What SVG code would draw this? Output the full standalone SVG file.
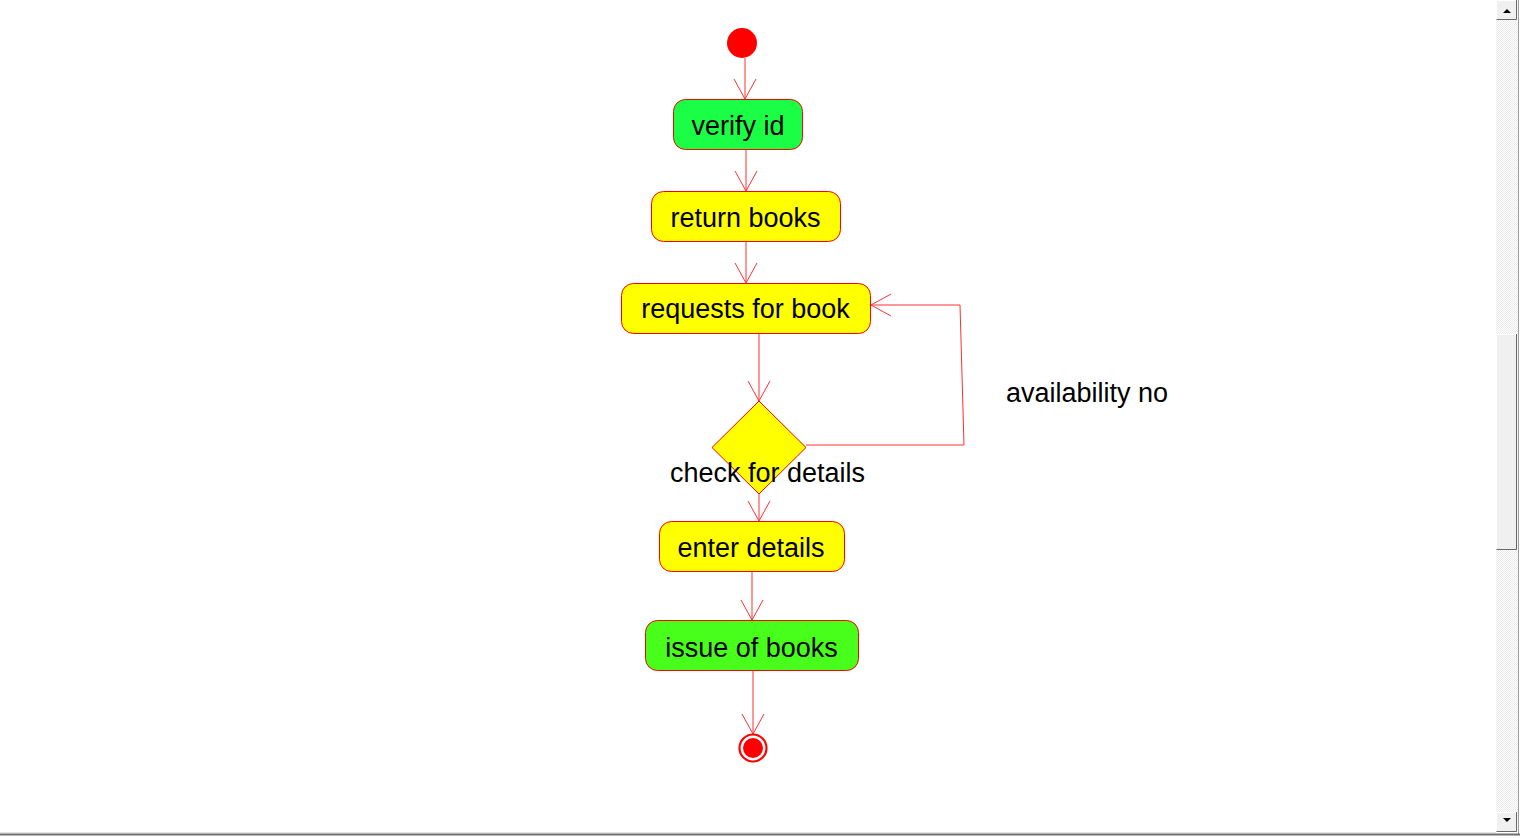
<svg xmlns="http://www.w3.org/2000/svg" width="1520" height="838" viewBox="0 0 1520 838">
  <defs>
    <style>
      .act { stroke: #ff0000; stroke-width: 1; }
      .yellow { fill: #ffff00; }
      .label { font-family: "Liberation Sans", Arial, sans-serif; font-size: 27px; fill: #000000; }
      .mid { text-anchor: middle; }
      .edge { fill: none; stroke: #ff3030; stroke-width: 1; }
      .sb-face { fill: #f0f0f0; }
    </style>
    <pattern id="dither" width="2" height="2" patternUnits="userSpaceOnUse">
      <rect width="2" height="2" fill="#ffffff"/>
      <rect width="1" height="1" fill="#eaeaea"/>
      <rect x="1" y="1" width="1" height="1" fill="#eaeaea"/>
    </pattern>
    <marker id="openArrow" viewBox="0 0 22 24" refX="21" refY="12" markerWidth="22" markerHeight="24" markerUnits="userSpaceOnUse" orient="auto">
      <path d="M1,1 L21,12 L1,23" fill="none" stroke="#ff3030" stroke-width="1"/>
    </marker>
  </defs>

  <rect x="0" y="0" width="1520" height="838" fill="#ffffff"/>

  <!-- connectors -->
  <g id="connectors">
    <line class="edge" x1="745" y1="58" x2="745" y2="99" marker-end="url(#openArrow)"/>
    <line class="edge" x1="746" y1="149" x2="746" y2="191" marker-end="url(#openArrow)"/>
    <line class="edge" x1="746" y1="241" x2="746" y2="283" marker-end="url(#openArrow)"/>
    <line class="edge" x1="759" y1="333" x2="759" y2="401" marker-end="url(#openArrow)"/>
    <polyline class="edge" points="806,445 964,445 960,305 871,305" marker-end="url(#openArrow)"/>
    <line class="edge" x1="759" y1="494" x2="759" y2="521" marker-end="url(#openArrow)"/>
    <line class="edge" x1="752" y1="572" x2="752" y2="620" marker-end="url(#openArrow)"/>
    <line class="edge" x1="753" y1="671" x2="753" y2="734" marker-end="url(#openArrow)"/>
  </g>

  <g id="start">
    <circle cx="742" cy="43" r="15" fill="#ff0000"/>
  </g>

  <g id="verify-id">
    <rect class="act" x="673.5" y="99.5" width="129" height="50" rx="12" fill="#1aff46"/>
    <text class="label mid" x="738" y="135">verify id</text>
  </g>

  <g id="return-books">
    <rect class="act yellow" x="651.5" y="191.5" width="189" height="50" rx="12"/>
    <text class="label mid" x="745.5" y="227">return books</text>
  </g>

  <g id="requests-for-book">
    <rect class="act yellow" x="621.5" y="283.5" width="249" height="50" rx="12"/>
    <text class="label mid" x="745.5" y="318">requests for book</text>
  </g>

  <g id="decision">
    <polygon class="act yellow" points="759,401 806,447.5 759,494 712,447.5"/>
    <text class="label" x="670" y="482">check for details</text>
  </g>

  <g id="availability-label">
    <text class="label" x="1006" y="402">availability no</text>
  </g>

  <g id="enter-details">
    <rect class="act yellow" x="659.5" y="521.5" width="185" height="50" rx="12"/>
    <text class="label mid" x="751" y="557">enter details</text>
  </g>

  <g id="issue-of-books">
    <rect class="act" x="645.5" y="620.5" width="213" height="50" rx="12" fill="#47ff1a"/>
    <text class="label mid" x="751.5" y="657">issue of books</text>
  </g>

  <g id="end">
    <circle cx="753" cy="748" r="13.5" fill="#ffffff" stroke="#ff0000" stroke-width="2.2"/>
    <circle cx="753" cy="748" r="10" fill="#ff0000"/>
  </g>

  <!-- window chrome: vertical scrollbar and bottom edge -->
  <g id="scrollbar">
    <rect x="1496" y="0" width="22" height="832" fill="url(#dither)"/>
    <line x1="1518.5" y1="0" x2="1518.5" y2="834" stroke="#a0a0a0" stroke-width="1"/>
    <!-- up button -->
    <rect class="sb-face" x="1496" y="0" width="21" height="20"/>
    <polyline points="1496.5,19.5 1496.5,0.5 1516.5,0.5" fill="none" stroke="#ffffff"/>
    <polyline points="1496.5,19.5 1516.5,19.5 1516.5,0" fill="none" stroke="#696969"/>
    <polygon points="1503,13 1511,13 1507,9" fill="#000000"/>
    <!-- thumb -->
    <rect class="sb-face" x="1496" y="334" width="21" height="216"/>
    <polyline points="1496.5,549.5 1496.5,334.5 1516.5,334.5" fill="none" stroke="#ffffff"/>
    <polyline points="1496.5,549.5 1516.5,549.5 1516.5,334" fill="none" stroke="#696969"/>
    <!-- down button -->
    <rect class="sb-face" x="1496" y="812" width="21" height="20"/>
    <polyline points="1496.5,831.5 1496.5,812.5 1516.5,812.5" fill="none" stroke="#ffffff"/>
    <polyline points="1496.5,831.5 1516.5,831.5 1516.5,812" fill="none" stroke="#696969"/>
    <polygon points="1503,818 1511,818 1507,822" fill="#000000"/>
  </g>
  <g id="bottom-edge">
    <line x1="0" y1="832.5" x2="1496" y2="832.5" stroke="#e3e3e3" stroke-width="1"/>
    <line x1="0" y1="834.5" x2="1520" y2="834.5" stroke="#6f6f6f" stroke-width="2"/>
  </g>
</svg>
